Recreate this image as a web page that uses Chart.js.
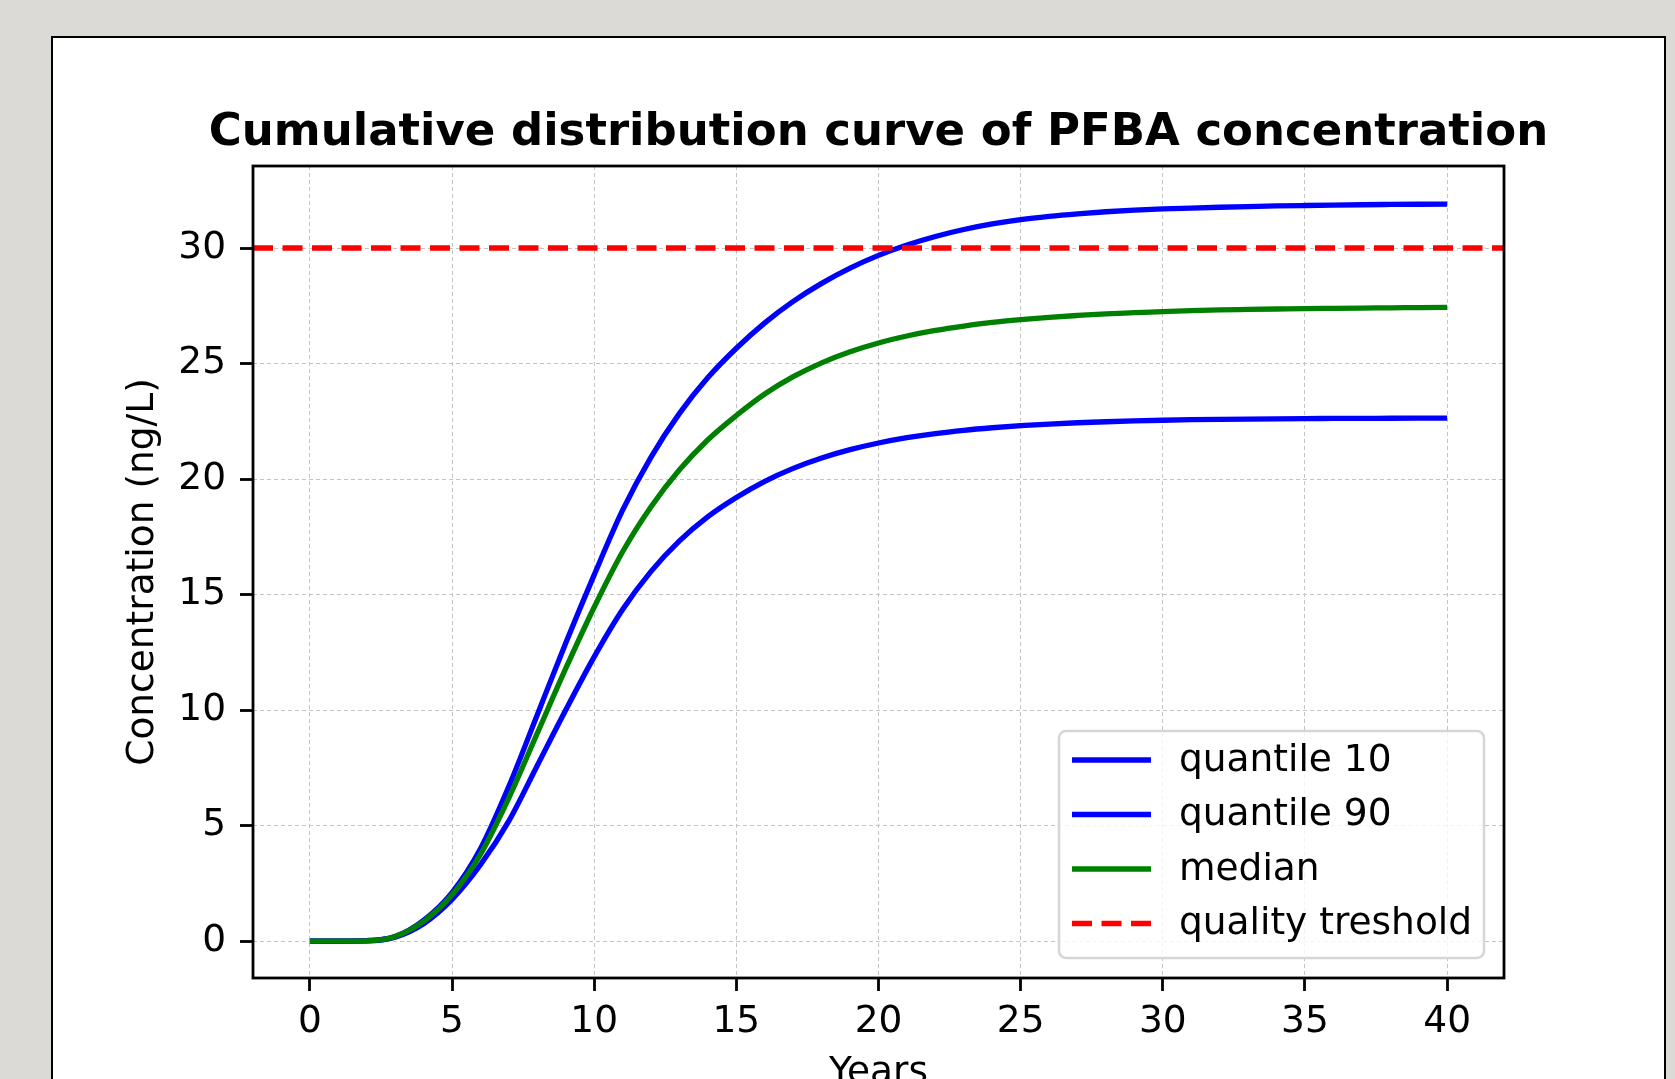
<!DOCTYPE html>
<html>
<head>
<meta charset="utf-8">
<title>Cumulative distribution curve of PFBA concentration</title>
<script src="https://cdn.jsdelivr.net/npm/chart.js@4.4.1/dist/chart.umd.min.js"></script>
<style>
  html, body { margin: 0; padding: 0; background: #dbdad6; overflow: hidden; }
  #wrap { position: relative; width: 1675px; height: 1200px; }
</style>
</head>
<body>
<div id="wrap"><canvas id="chartPfba" width="1675" height="1200"></canvas></div>
<script>
// years on the x axis
const years = [0, 1, 2, 3, 4, 5, 6, 7, 8, 9, 10, 11, 12, 13, 14, 15, 16, 17, 18, 19, 20,
    21, 22, 23, 24, 25, 26, 27, 28, 29, 30, 31, 32, 33, 34, 35, 36, 37, 38, 39, 40];

// concentration (ng/L)
const quantile10 = [0, 0, 0.01, 0.17, 0.75, 1.8, 3.3, 5.2, 7.6, 10.0, 12.3, 14.35, 16.0, 17.32, 18.37, 19.2, 19.9, 20.46, 20.91, 21.27, 21.56,
    21.79, 21.97, 22.11, 22.22, 22.31, 22.38, 22.435, 22.48, 22.515, 22.545, 22.567, 22.584, 22.597, 22.607, 22.615, 22.621, 22.626, 22.63, 22.633, 22.635];
const quantile90 = [0, 0, 0.02, 0.2, 0.9, 2.1, 4.0, 6.7, 9.8, 12.9, 15.85, 18.65, 20.95, 22.84, 24.39, 25.66, 26.76, 27.69, 28.47, 29.13, 29.68,
    30.13, 30.5, 30.8, 31.04, 31.23, 31.37, 31.48, 31.57, 31.64, 31.69, 31.73, 31.765, 31.795, 31.82, 31.84, 31.858, 31.873, 31.885, 31.895, 31.903];
const median = [0, 0, 0.01, 0.2, 0.85, 2.0, 3.75, 6.2, 9.0, 11.8, 14.45, 16.85, 18.8, 20.4, 21.7, 22.75, 23.68, 24.43, 25.03, 25.51, 25.89,
    26.19, 26.43, 26.62, 26.78, 26.9, 27.0, 27.08, 27.15, 27.2, 27.25, 27.29, 27.32, 27.34, 27.36, 27.38, 27.39, 27.4, 27.41, 27.42, 27.43];
const qualityThreshold = 30;

const xTicks = [0, 5, 10, 15, 20, 25, 30, 35, 40];
const yTicks = [0, 5, 10, 15, 20, 25, 30];
const xRange = [-2, 42];
const yRange = [-1.6, 33.55];

const chartTitle = 'Cumulative distribution curve of PFBA concentration';
const FONT = 'DejaVu Sans';
const canvas = document.getElementById('chartPfba');
const ctx = canvas.getContext('2d');

const toPoints = (arr) => years.map((x, i) => ({ x: x, y: arr[i] }));

const data = {
    datasets: [
        { label: 'quantile 10', data: toPoints(quantile10), borderColor: '#0000ff', order: 4 },
        { label: 'quantile 90', data: toPoints(quantile90), borderColor: '#0000ff', order: 3 },
        { label: 'median', data: toPoints(median), borderColor: '#008000', order: 2 },
        {
            label: 'quality treshold',
            data: xRange.map(x => ({ x: x, y: qualityThreshold })),
            borderColor: '#ff0000', borderDash: [20, 9.5], order: 1
        }
    ]
}
data.datasets.forEach(d => {
    d.borderWidth = 5.3;
    d.pointRadius = 0;
    d.fill = false;
    d.cubicInterpolationMode = 'monotone';
    d.borderCapStyle = 'butt';
});

// grey page + white figure panel
const figureBg = {
    id: 'figureBg',
    beforeDraw(chart) {
        const c = chart.ctx;
        c.save();
        c.fillStyle = '#dbdad6';
        c.fillRect(0, 0, chart.width, chart.height);
        c.fillStyle = '#ffffff';
        c.fillRect(52, 37, 1613, 1300);
        c.strokeStyle = '#000000';
        c.lineWidth = 2;
        c.strokeRect(52, 37, 1613, 1300);
        c.restore();
    }
}

// black box round the axes + the title (wider than the axes, so not squeezed)
const axesFrame = {
    id: 'axesFrame',
    afterDatasetsDraw(chart) {
        const { left, top, right, bottom } = chart.chartArea;
        const c = chart.ctx;
        c.save();
        c.strokeStyle = '#000000';
        c.lineWidth = 2.8;
        c.strokeRect(left, top, right - left, bottom - top);
        c.font = 'bold 45px "' + FONT + '"';
        c.textAlign = 'center';
        c.textBaseline = 'alphabetic';
        c.fillStyle = '#000000';
        c.fillText(chartTitle, (left + right) / 2, top - 21);
        c.restore();
    }
}

// matplotlib-like legend, lower right inside the axes
const boxLegend = {
    id: 'boxLegend',
    afterDraw(chart) {
        const { right, bottom } = chart.chartArea;
        const c = chart.ctx;
        const w = 425, h = 227;
        const x0 = right - 20 - w, y0 = bottom - 20 - h;
        c.save();
        c.beginPath();
        c.roundRect(x0, y0, w, h, 7);
        c.fillStyle = 'rgba(255,255,255,0.8)';
        c.fill();
        c.strokeStyle = '#d6d6d6';
        c.lineWidth = 2.6;
        c.stroke();
        c.font = '37.5px "' + FONT + '"';
        c.textBaseline = 'middle';
        c.fillStyle = '#000000';
        chart.data.datasets.forEach((ds, i) => {
            const y = y0 + 29 + i * 54.5;
            c.beginPath();
            c.strokeStyle = ds.borderColor;
            c.lineWidth = ds.borderWidth;
            c.lineCap = 'butt';
            c.setLineDash(ds.borderDash || []);
            c.moveTo(x0 + 13, y);
            c.lineTo(x0 + 92, y);
            c.stroke();
            c.setLineDash([]);
            c.fillText(ds.label, x0 + 120, y + 1);
        });
        c.restore();
    }
}

const chartPfba = new Chart(ctx, {
    type: 'line',
    data: data,
    plugins: [figureBg, axesFrame, boxLegend],
    options: {
        responsive: false,
        animation: false,
        devicePixelRatio: 1,
        layout: { padding: { left: 0, right: 171, top: 166, bottom: 0 } },
        plugins: {
            legend: { display: false },
            tooltip: { enabled: false },
            title: { display: false }
        },
        scales: {
            x: {
                type: 'linear',
                min: xRange[0],
                max: xRange[1],
                afterBuildTicks: (scale) => { scale.ticks = xTicks.map(v => ({ value: v })); },
                afterFit: (scale) => { scale.height = 222; },
                ticks: {
                    color: '#000000',
                    font: { family: FONT, size: 37.5 },
                    padding: 9,
                    maxRotation: 0,
                    autoSkip: false
                },
                grid: {
                    color: '#c4c4c4',
                    lineWidth: 1,
                    tickColor: '#000000',
                    tickWidth: 2.8,
                    tickLength: 13
                },
                border: { display: false, dash: [4, 3] },
                title: {
                    display: true,
                    text: 'Years',
                    color: '#000000',
                    font: { family: FONT, size: 37.5, lineHeight: 1.2 },
                    padding: { top: 0, bottom: 104 }
                }
            },
            y: {
                type: 'linear',
                min: yRange[0],
                max: yRange[1],
                afterBuildTicks: (scale) => { scale.ticks = yTicks.map(v => ({ value: v })); },
                afterFit: (scale) => { scale.width = 253; },
                ticks: {
                    color: '#000000',
                    font: { family: FONT, size: 37.5 },
                    padding: 14
                },
                grid: {
                    color: '#c4c4c4',
                    lineWidth: 1,
                    tickColor: '#000000',
                    tickWidth: 2.8,
                    tickLength: 13
                },
                border: { display: false, dash: [4, 3] },
                title: {
                    display: true,
                    text: 'Concentration (ng/L)',
                    color: '#000000',
                    font: { family: FONT, size: 37.5, lineHeight: 1.2 },
                    padding: { top: 120.5, bottom: 0 }
                }
            }
        }
    }
})
</script>
</body>
</html>
